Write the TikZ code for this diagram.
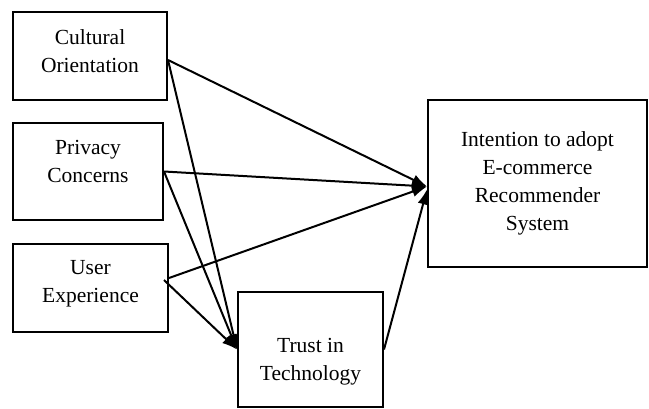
\documentclass[tikz,border=0pt]{standalone}
\usepackage{fontspec}
\setmainfont{Liberation Serif}
\usetikzlibrary{arrows.meta,positioning}

\begin{document}
\begin{tikzpicture}[
  x=1pt,y=-1pt,
  font=\fontsize{21.5}{28}\selectfont,
  box/.style={draw,line width=2pt,inner sep=0pt},
  txt/.style={align=center,inner sep=0pt},
  ar/.style={-{Latex[length=15pt,width=11pt]},line width=2pt}]

 \useasboundingbox (0,0) rectangle (649,408);

 % ---- predictors ----
 \node[box,minimum width=154pt,minimum height=88pt] (cult) at (90,56) {};
 \node[txt] (cultT) at ([yshift=5pt]cult.center) {Cultural\\Orientation};
 \node[box,minimum width=150pt,minimum height=97pt] (priv) at (88,171.5) {};
 \node[txt] (privT) at ([yshift=10pt]priv.center) {Privacy\\Concerns};
 \node[box,minimum width=155pt,minimum height=88pt] (user) at (90.5,288) {};
 \node[txt] (userT) at ([yshift=4pt]user.center) {User\\Experience};

 % ---- mediator and outcome ----
 \node[box,minimum width=145pt,minimum height=115pt] (trust) at (310.5,349.5) {};
 \node[txt] (trustT) at ([yshift=-12pt]trust.center) {Trust in\\Technology};
 \node[box,minimum width=219pt,minimum height=167pt] (intent) at (537.5,183.5) {};
 \node[txt] (intentT) at (intent.center) {Intention to adopt\\E-commerce\\Recommender\\System};

 % ---- paths ----
 \draw[ar] ([yshift=-4pt]cult.east) -- ([yshift=-3pt]intent.west);
 \draw[ar] (priv.east) -- ([yshift=-3pt]intent.west);
 \draw[ar] ([yshift=10pt]user.east) -- ([yshift=-3pt]intent.west);
 \draw[ar] ([yshift=-4pt]cult.east) -- (trust.west);
 \draw[ar] (priv.east) -- (trust.west);
 \draw[ar] ([xshift=-5pt,yshift=8pt]user.east) -- (trust.west);
 \draw[ar] (trust.east) -- ([yshift=-6pt]intent.west);
\end{tikzpicture}
\end{document}
